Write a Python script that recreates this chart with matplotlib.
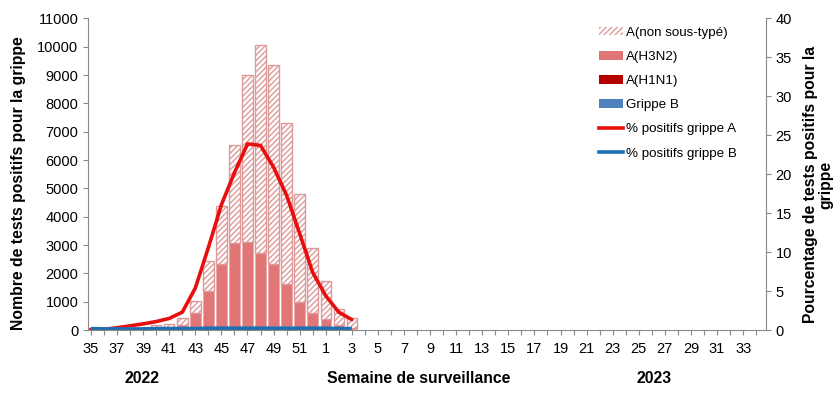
import matplotlib
matplotlib.use("Agg")
from matplotlib import pyplot as plt
from matplotlib.patches import Patch
from matplotlib.lines import Line2D
import numpy as np

plt.rcParams['font.family'] = ['Liberation Sans', 'DejaVu Sans']
plt.rcParams['hatch.linewidth'] = 1.0

# surveillance weeks 35/2022 -> 34/2023
weeks = list(range(35, 53)) + list(range(1, 35))

# values, weeks 35 .. 3 (remaining weeks have no data)
grippe_b = [15, 5, 5, 5, 5, 10, 10, 10, 10, 15, 15, 15, 20, 20, 20, 25, 25, 25, 25, 20, 20]
h1n1 = [20, 0, 0, 0, 5, 5, 10, 10, 20, 25, 30, 40, 100, 90, 110, 110, 100, 80, 70, 30, 20]
h3n2 = [25, 5, 10, 20, 30, 45, 70, 160, 570, 1350, 2285, 3035, 2980, 2610, 2200, 1485,
        855, 495, 295, 140, 50]
non_sous_type = [30, 10, 15, 35, 70, 110, 130, 265, 420, 1060, 2040, 3430, 5890, 7360,
                 7040, 5700, 3810, 2300, 1350, 560, 330]
pct_a = [0.1, 0.1, 0.3, 0.55, 0.8, 1.1, 1.5, 2.3, 5.4, 10.6, 16.1, 20.2, 23.9, 23.7,
         20.9, 17.3, 12.4, 7.4, 4.4, 2.3, 1.35]
pct_b = [0.2, 0.15, 0.15, 0.15, 0.15, 0.2, 0.2, 0.2, 0.2, 0.25, 0.25, 0.25, 0.25, 0.25,
         0.25, 0.25, 0.25, 0.25, 0.25, 0.2, 0.2]

c_non = '#DE9A9A'
c_h3 = '#E07676'
c_h1 = '#B50000'
c_b = '#4F81BD'
c_la = '#E80E0E'
c_lb = '#1F6FB4'
grey = '#8A8A8A'

n = len(grippe_b)
x = np.arange(n)
b = np.array(grippe_b)
h1 = np.array(h1n1)
h3 = np.array(h3n2)
na = np.array(non_sous_type)

fig = plt.figure(figsize=(8.38, 3.93), dpi=100)
ax = fig.add_axes([0.105, 0.16, 0.809, 0.793])
w = 0.8
ax.bar(x, b, w, color=c_b, linewidth=0)
ax.bar(x, h1, w, bottom=b, color=c_h1, linewidth=0)
ax.bar(x, h3, w, bottom=b + h1, color=c_h3, edgecolor='#EBA8A8', linewidth=0.6)
ax.bar(x, na, w, bottom=b + h1 + h3, color='white', edgecolor=c_non,
       hatch='//////', linewidth=1.0)

ax.set_xlim(-0.23, 51.75)
ax.set_ylim(0, 11000)
ax.set_yticks(range(0, 11001, 1000))
ax.set_xticks(range(len(weeks)))
ax.set_xticklabels([str(wk) if i % 2 == 0 else '' for i, wk in enumerate(weeks)])

ax2 = ax.twinx()
ax2.plot(x, pct_a, color=c_la, lw=2.6, solid_capstyle='round')
ax2.plot(x, pct_b, color=c_lb, lw=2.6, solid_capstyle='butt')
ax2.set_ylim(0, 40)
ax2.set_yticks(range(0, 41, 5))

for a in (ax, ax2):
    a.spines['top'].set_visible(False)
    for s in ('left', 'right', 'bottom'):
        a.spines[s].set_color(grey)
    a.tick_params(colors=grey, labelcolor='black', labelsize=10.5, length=3.5)
ax.spines['right'].set_visible(False)
ax2.spines['left'].set_visible(False)
ax2.spines['bottom'].set_visible(False)
ax.tick_params(axis='x', pad=5)

bold = dict(fontsize=11.3, fontweight='bold', ha='center', va='center')
fig.text(0.022, 0.535, 'Nombre de tests positifs pour la grippe', rotation=90, **bold)
fig.text(0.976, 0.53, 'Pourcentage de tests positifs pour la\ngrippe', rotation=90,
         linespacing=1.0, **bold)
fig.text(0.17, 0.038, '2022', **bold)
fig.text(0.5, 0.038, 'Semaine de surveillance', **bold)
fig.text(0.781, 0.038, '2023', **bold)

handles = [
    Patch(facecolor='white', edgecolor=c_non, hatch='//////', linewidth=0),
    Patch(facecolor=c_h3, linewidth=0),
    Patch(facecolor=c_h1, linewidth=0),
    Patch(facecolor=c_b, linewidth=0),
    Line2D([], [], color=c_la, lw=2.6),
    Line2D([], [], color=c_lb, lw=2.6),
]
labels = ['A(non sous-typé)', 'A(H3N2)', 'A(H1N1)', 'Grippe B',
          '% positifs grippe A', '% positifs grippe B']
leg = ax2.legend(handles, labels, loc='upper left', bbox_to_anchor=(0.708, 0.945),
                 bbox_transform=fig.transFigure, frameon=False, fontsize=9.6,
                 handlelength=1.85, handleheight=0.6, handletextpad=0.2,
                 labelspacing=0.91, borderaxespad=0)

fig.savefig('out.png', dpi=100)
